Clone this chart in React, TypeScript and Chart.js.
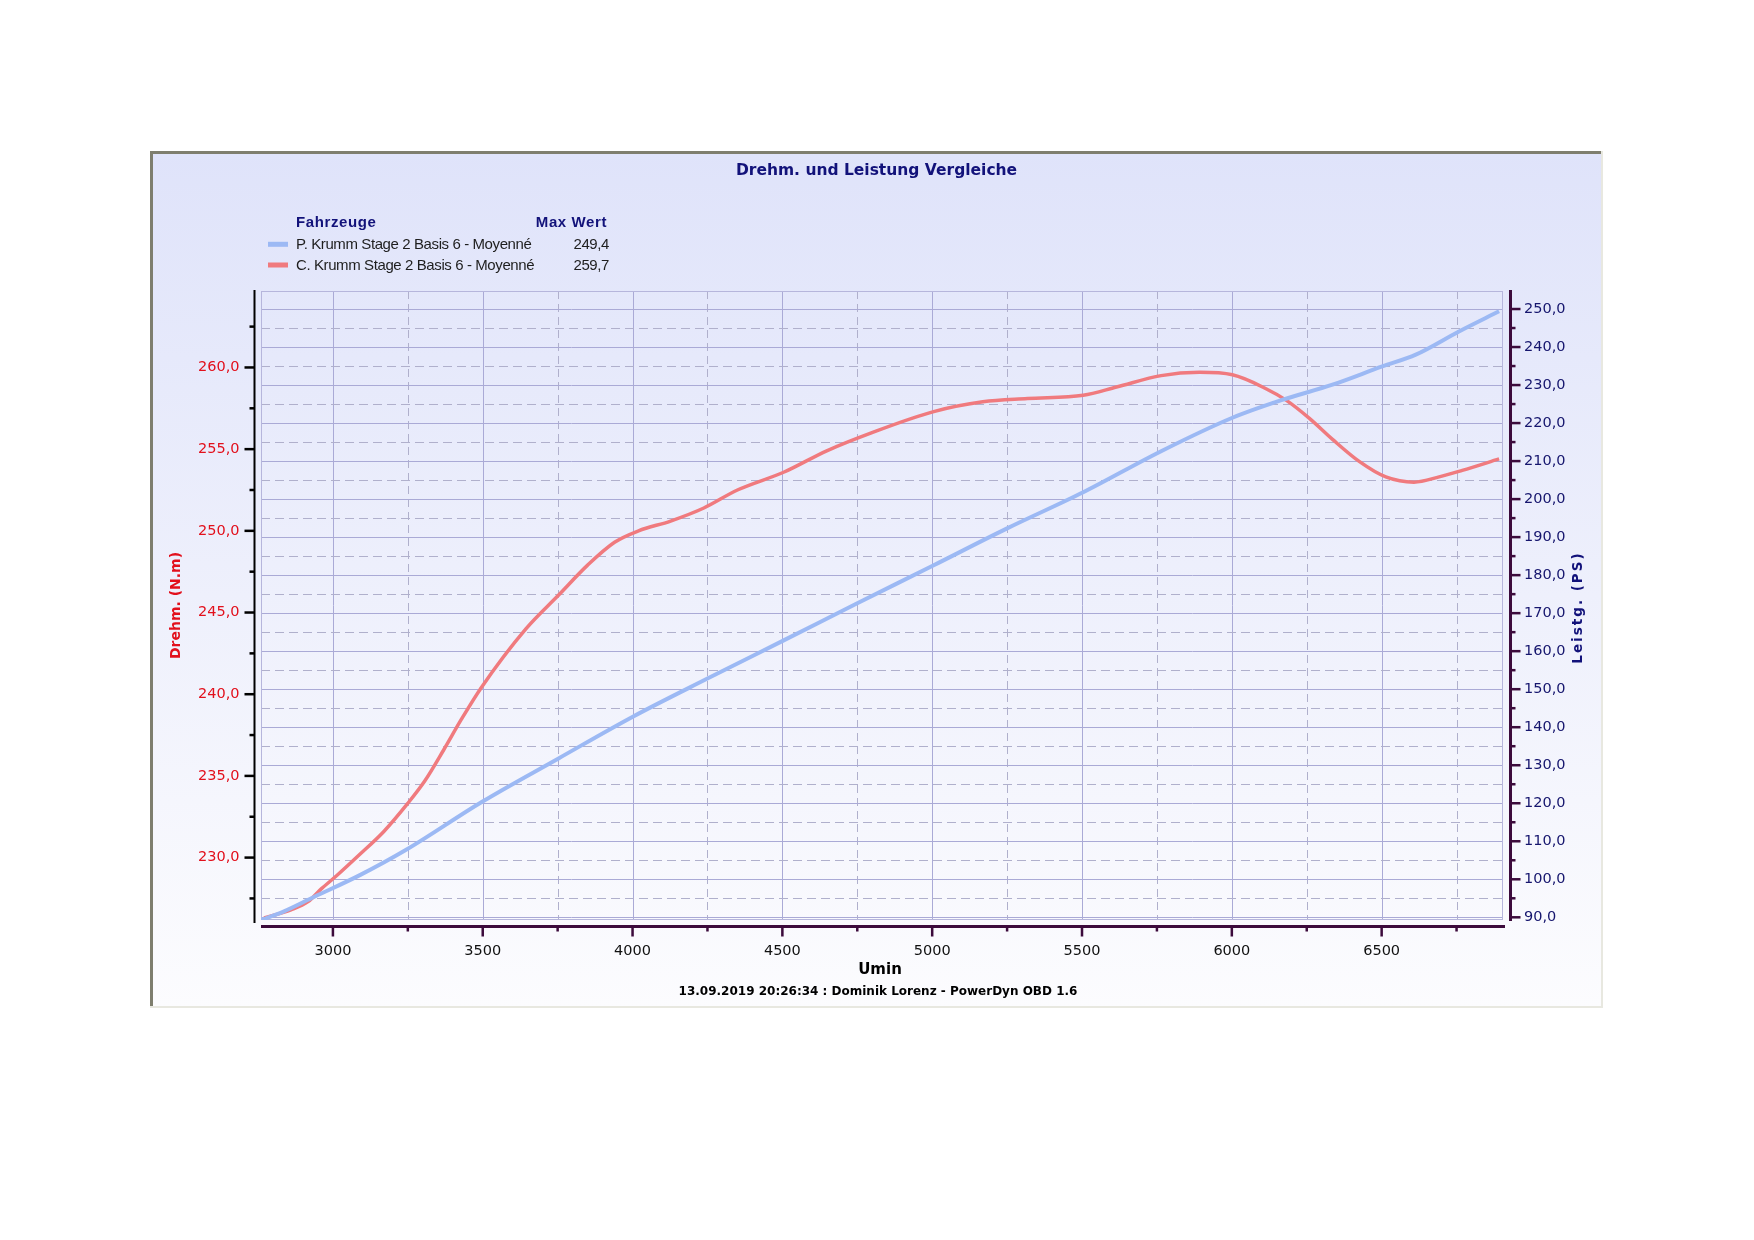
import React, { useEffect, useRef } from "react";
import { Chart, registerables } from "chart.js";

Chart.register(...registerables);

// Leistung (PS), rechte Achse
const rpmPower = [2760, 2835, 2938, 3090, 3243, 3498, 3753, 4004, 4250, 4506, 4750, 5005, 5250, 5504, 5764, 6002, 6168, 6336, 6502, 6614, 6758, 6892];
const power = [89.3, 91.5, 95.4, 101.1, 107.7, 120.4, 131.8, 142.9, 152.8, 162.9, 172.6, 182.6, 192.3, 201.8, 212.6, 221.4, 226.1, 230.1, 234.9, 238.0, 244.1, 249.4];

// Drehmoment (N.m), linke Achse
const rpmTorque = [2770, 2860, 2917, 2962, 3013, 3090, 3170, 3249, 3307, 3370, 3430, 3495, 3644, 3755, 3850, 3940, 4020, 4127, 4238, 4350, 4506, 4648, 4797, 5005, 5169, 5318, 5504, 5615, 5764, 5892, 6002, 6114, 6181, 6258, 6336, 6425, 6514, 6608, 6692, 6769, 6892];
const torque = [226.3, 226.8, 227.3, 228.1, 228.9, 230.2, 231.6, 233.3, 234.7, 236.6, 238.5, 240.4, 244.0, 246.1, 247.9, 249.3, 250.0, 250.6, 251.4, 252.5, 253.6, 254.9, 256.0, 257.3, 257.9, 258.1, 258.3, 258.8, 259.5, 259.7, 259.55, 258.7, 258.0, 256.9, 255.6, 254.25, 253.3, 252.98, 253.3, 253.7, 254.4];

const seriesNames = ["P. Krumm Stage 2 Basis 6 - Moyenné", "C. Krumm Stage 2 Basis 6 - Moyenné"];
const maxValues = ["249,4", "259,7"];
const seriesColors = ["#9cb9f4", "#f07a7e"];

const NAVY = "#12127a";
const RED = "#e2101c";
const PURPLE = "#3c0b3c";

const FRAME = { left: 150, top: 151, right: 1603, bottom: 1008 };

const fmt = (v: number) => v.toFixed(1).replace(".", ",");
const isStep = (v: number, step: number) => Math.abs(v / step - Math.round(v / step)) < 1e-6;

const framePlugin = {
  id: "dynoFrame",
  beforeDraw(chart: any) {
    const { ctx, chartArea: a, scales } = chart;
    ctx.save();
    ctx.fillStyle = "#ffffff";
    ctx.fillRect(0, 0, chart.width, chart.height);

    const g = ctx.createLinearGradient(0, FRAME.top, 0, FRAME.bottom);
    g.addColorStop(0, "#dfe3fa");
    g.addColorStop(1, "#fcfcfe");
    ctx.fillStyle = g;
    ctx.fillRect(FRAME.left, FRAME.top, FRAME.right - FRAME.left, FRAME.bottom - FRAME.top);

    // bevel
    ctx.fillStyle = "#e8e8e0";
    ctx.fillRect(FRAME.right - 2, FRAME.top, 2, FRAME.bottom - FRAME.top);
    ctx.fillRect(FRAME.left, FRAME.bottom - 2, FRAME.right - FRAME.left, 2);
    ctx.fillStyle = "#7e7e6e";
    ctx.fillRect(FRAME.left, FRAME.top, FRAME.right - FRAME.left - 2, 3);
    ctx.fillRect(FRAME.left, FRAME.top, 3, FRAME.bottom - FRAME.top - 2);

    // grid
    ctx.lineWidth = 1;
    const x = scales.x;
    x.ticks.forEach((t: any) => {
      const px = Math.round(x.getPixelForValue(t.value)) + 0.5;
      const solid = isStep(t.value, 500);
      ctx.strokeStyle = solid ? "#aaaad6" : "#b0b0cc";
      ctx.setLineDash(solid ? [] : [8, 5]);
      ctx.beginPath();
      ctx.moveTo(px, a.top);
      ctx.lineTo(px, a.bottom);
      ctx.stroke();
    });
    const y1 = scales.y1;
    y1.ticks.forEach((t: any) => {
      const py = Math.round(y1.getPixelForValue(t.value)) + 0.5;
      const solid = isStep(t.value, 10);
      ctx.strokeStyle = solid ? "#aaaad6" : "#b0b0cc";
      ctx.setLineDash(solid ? [] : [9, 5]);
      ctx.beginPath();
      ctx.moveTo(a.left, py);
      ctx.lineTo(a.right, py);
      ctx.stroke();
    });
    ctx.setLineDash([]);
    ctx.strokeStyle = "#b6b6dc";
    ctx.strokeRect(a.left + 0.5, a.top + 0.5, a.width - 1, a.height - 1);
    ctx.restore();
  },
  afterDraw(chart: any) {
    const { ctx, chartArea: a, scales } = chart;
    ctx.save();

    // left axis
    const y = scales.y;
    const lx = a.left - 6.5;
    ctx.fillStyle = "#000000";
    ctx.fillRect(lx - 1, a.top - 1, 2, a.bottom - a.top + 4);
    y.ticks.forEach((t: any) => {
      const py = y.getPixelForValue(t.value);
      const len = isStep(t.value, 5) ? 10 : 5;
      ctx.fillRect(lx - len, py - 1.25, len, 2.5);
    });

    // right axis
    const y1 = scales.y1;
    const rx = a.right + 7.5;
    ctx.fillStyle = PURPLE;
    ctx.fillRect(rx - 1.5, a.top - 1, 3, a.bottom - a.top + 2);
    y1.ticks.forEach((t: any) => {
      const py = y1.getPixelForValue(t.value);
      const len = isStep(t.value, 10) ? 10 : 5;
      ctx.fillRect(rx, py - 1.25, len, 2.5);
    });

    // bottom axis
    const x = scales.x;
    const by = a.bottom + 6.5;
    ctx.fillRect(a.left, by - 1.5, a.width + 2, 3);
    x.ticks.forEach((t: any) => {
      const px = x.getPixelForValue(t.value);
      const len = isStep(t.value, 500) ? 10 : 5;
      ctx.fillRect(px - 1.25, by, 2.5, len);
    });

    // title
    ctx.textAlign = "center";
    ctx.textBaseline = "alphabetic";
    ctx.fillStyle = NAVY;
    ctx.font = "bold 15.5px 'DejaVu Sans'";
    ctx.fillText("Drehm. und Leistung Vergleiche", (FRAME.left + FRAME.right) / 2, 175);

    // axis titles
    ctx.fillStyle = "#000000";
    ctx.font = "bold 15px 'DejaVu Sans'";
    ctx.fillText("Umin", 880, 974);
    ctx.font = "bold 12px 'DejaVu Sans'";
    ctx.fillText("13.09.2019 20:26:34 : Dominik Lorenz - PowerDyn OBD 1.6", 878, 995);

    const midY = (a.top + a.bottom) / 2;
    ctx.textBaseline = "middle";
    ctx.save();
    ctx.translate(176, midY);
    ctx.rotate(-Math.PI / 2);
    ctx.fillStyle = RED;
    ctx.font = "bold 14px 'DejaVu Sans'";
    ctx.fillText("Drehm. (N.m)", 0, 0);
    ctx.restore();

    ctx.save();
    ctx.translate(1578, midY + 2);
    ctx.rotate(-Math.PI / 2);
    ctx.fillStyle = NAVY;
    ctx.font = "bold 13.5px 'DejaVu Sans'";
    (ctx as any).letterSpacing = "2px";
    ctx.fillText("Leistg. (PS)", 0, 0);
    ctx.restore();

    // legend
    ctx.textBaseline = "alphabetic";
    ctx.fillStyle = NAVY;
    ctx.font = "bold 15px 'Liberation Sans'";
    (ctx as any).letterSpacing = "0.6px";
    ctx.textAlign = "left";
    ctx.fillText("Fahrzeuge", 296, 226.5);
    ctx.textAlign = "right";
    ctx.fillText("Max Wert", 607, 226.5);
    (ctx as any).letterSpacing = "-0.4px";
    ctx.font = "15px 'Liberation Sans'";
    const rows = [249.3, 270];
    seriesNames.forEach((name, i) => {
      ctx.fillStyle = seriesColors[i];
      ctx.fillRect(268, rows[i] - 7.5, 20, 5);
      ctx.fillStyle = "#1e1e1e";
      ctx.textAlign = "left";
      ctx.fillText(name, 296, rows[i]);
      ctx.textAlign = "right";
      ctx.fillText(maxValues[i], 609, rows[i]);
    });
    ctx.restore();
  },
};

const tickFont = { family: "'DejaVu Sans'", size: 14.5 };

export default function App() {
  const canvasRef = useRef<HTMLCanvasElement>(null);

  useEffect(() => {
    document.body.style.margin = "0";
    if (!canvasRef.current) return;
    const chart = new Chart(canvasRef.current, {
      type: "line",
      data: {
        datasets: [
          {
            label: seriesNames[0],
            data: rpmPower.map((r, i) => ({ x: r, y: power[i] })),
            yAxisID: "y1",
            borderColor: seriesColors[0],
            borderWidth: 4,
            pointRadius: 0,
            cubicInterpolationMode: "monotone",
          },
          {
            label: seriesNames[1],
            data: rpmTorque.map((r, i) => ({ x: r, y: torque[i] })),
            yAxisID: "y",
            borderColor: seriesColors[1],
            borderWidth: 3.5,
            pointRadius: 0,
            cubicInterpolationMode: "monotone",
          },
        ],
      },
      plugins: [framePlugin],
      options: {
        responsive: false,
        animation: false,
        devicePixelRatio: 1,
        layout: { padding: { left: 150, right: 150, top: 291, bottom: 250 } },
        plugins: { legend: { display: false }, title: { display: false }, tooltip: { enabled: false } },
        scales: {
          x: {
            type: "linear",
            min: 2760,
            max: 6905,
            grid: { display: false, drawTicks: false },
            border: { display: false },
            afterFit: (s: any) => {
              s.height = 70;
            },
            ticks: {
              stepSize: 250,
              includeBounds: false,
              autoSkip: false,
              maxRotation: 0,
              padding: 23,
              color: "#111111",
              font: tickFont,
              callback: (v: any) => (isStep(Number(v), 500) ? String(v) : ""),
            },
          },
          y: {
            type: "linear",
            position: "left",
            min: 226.18,
            max: 264.68,
            grid: { display: false, drawTicks: false },
            border: { display: false },
            afterFit: (s: any) => {
              s.width = 111;
            },
            ticks: {
              stepSize: 2.5,
              includeBounds: false,
              autoSkip: false,
              padding: 21.5,
              color: RED,
              font: tickFont,
              callback: (v: any) => (isStep(Number(v), 5) ? fmt(Number(v)) : ""),
            },
          },
          y1: {
            type: "linear",
            position: "right",
            min: 89.29,
            max: 254.74,
            grid: { display: false, drawTicks: false },
            border: { display: false },
            afterFit: (s: any) => {
              s.width = 101;
            },
            ticks: {
              stepSize: 5,
              includeBounds: false,
              autoSkip: false,
              padding: 21,
              color: "#16166e",
              font: tickFont,
              callback: (v: any) => (isStep(Number(v), 10) ? fmt(Number(v)) : ""),
            },
          },
        },
      },
    } as any);
    return () => chart.destroy();
  }, []);

  return <canvas ref={canvasRef} width={1754} height={1240} style={{ display: "block" }} />;
}
